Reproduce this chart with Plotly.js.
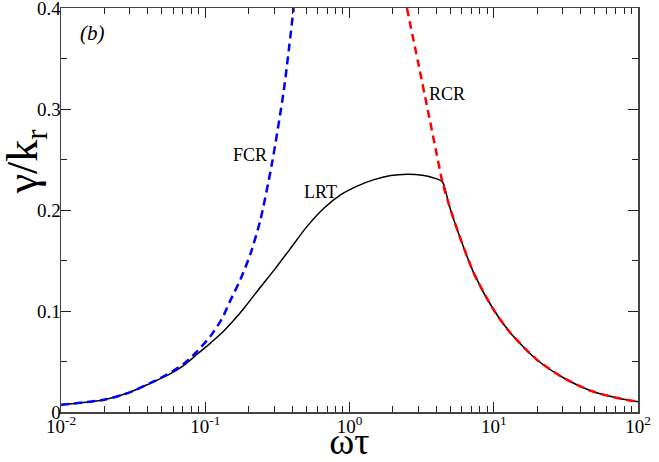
<!DOCTYPE html>
<html>
<head>
<meta charset="utf-8">
<script src="https://cdn.plot.ly/plotly-3.0.1.min.js"></script>
<style>
  html, body { margin: 0; padding: 0; background: #fff; }
  #chart { width: 659px; height: 462px; }
</style>
</head>
<body>
<div id="chart"></div>
<script>
// values (x = omega*tau, y = gamma/k_r)
const lrtX = [0.01, 0.02, 0.03, 0.0415, 0.055, 0.0706, 0.085, 0.108, 0.135, 0.157, 0.185, 0.241, 0.3, 0.389, 0.508, 0.664, 0.866,
  1.13, 1.48, 1.93, 2.51, 3.2, 3.8, 4.4, 4.9, 5.6, 7.3, 10, 13.1, 20, 30.8, 47, 72, 100];
const lrtY = [0.0072, 0.0122, 0.0195, 0.0284, 0.0365, 0.046, 0.0555, 0.068, 0.0805, 0.0905, 0.1025, 0.1235, 0.1405, 0.1618, 0.1838, 0.2018, 0.215,
  0.2237, 0.2301, 0.2341, 0.2355, 0.2345, 0.232, 0.228, 0.205, 0.180, 0.137, 0.101, 0.078, 0.0515, 0.0334, 0.021, 0.0138, 0.0102];

const fcrX = [0.01, 0.02, 0.03, 0.0415, 0.055, 0.0706, 0.085, 0.108, 0.13, 0.15, 0.175, 0.205, 0.241, 0.29, 0.35, 0.41];
const fcrY = [0.0072, 0.0122, 0.0195, 0.0286, 0.0375, 0.0475, 0.058, 0.0746, 0.092, 0.111, 0.131, 0.156, 0.190, 0.246, 0.318, 0.40];

const rcrX = [2.5, 3.0, 3.5, 4.0, 4.4, 4.9, 5.6, 7.3, 10, 13.1, 20, 30.8, 47, 72, 100];
const rcrY = [0.400, 0.345, 0.298, 0.257, 0.228, 0.205, 0.180, 0.137, 0.101, 0.078, 0.0515, 0.0334, 0.021, 0.0138, 0.0102];

const xMajor = [0.01, 0.1, 1, 10, 100];
const xMajorText = ['10<sup>-2</sup>', '10<sup>-1</sup>', '10<sup>0</sup>', '10<sup>1</sup>', '10<sup>2</sup>'];
const yMajor = [0, 0.1, 0.2, 0.3, 0.4];
const yMajorText = ['0', '0.1', '0.2', '0.3', '0.4'];

const labels = [
  {text: '<i>(b)</i>', x: 0.054, y: 0.938, size: 21},
  {text: 'FCR', x: 0.328, y: 0.636, size: 18},
  {text: 'LRT', x: 0.449, y: 0.545, size: 18},
  {text: 'RCR', x: 0.669, y: 0.787, size: 18}
];

(function () {
  const serif = 'Liberation Serif, Times New Roman, Times, DejaVu Serif, serif';

  // minor ticks: 2..9 inside every decade
  const xMinor = [];
  xMajor.slice(0, -1).forEach(function (d) {
    for (let k = 2; k <= 9; k++) {
      xMinor.push(d * k);
    }
  });

  const traces = [
    {x: lrtX, y: lrtY, type: 'scatter', mode: 'lines', name: 'LRT',
      line: {color: '#000', width: 1.5, shape: 'spline', smoothing: 0.7}},
    {x: fcrX, y: fcrY, type: 'scatter', mode: 'lines', name: 'FCR',
      line: {color: '#0000ff', width: 2.5, dash: '8px,5px', shape: 'spline', smoothing: 0.7}},
    {x: rcrX, y: rcrY, type: 'scatter', mode: 'lines', name: 'RCR',
      line: {color: '#ff0000', width: 2.5, dash: '8px,5px', shape: 'spline', smoothing: 0.7}}
  ];

  const axisCommon = {
    showgrid: false,
    zeroline: false,
    showline: true,
    linecolor: '#444',
    linewidth: 1.5,
    mirror: 'ticks',
    ticks: 'inside',
    ticklen: 10,
    tickwidth: 1,
    tickcolor: '#222',
    ticklabeloverflow: 'allow',
    tickfont: {family: serif, size: 19, color: '#000'}
  };

  const layout = {
    width: 659,
    height: 462,
    margin: {l: 61, r: 21, t: 8, b: 50},
    font: {family: serif, color: '#000'},
    paper_bgcolor: '#fff',
    plot_bgcolor: '#fff',
    showlegend: false,
    xaxis: Object.assign({}, axisCommon, {
      type: 'log',
      range: [-2, 2],
      tickmode: 'array',
      tickvals: xMajor,
      ticktext: xMajorText,
      ticklabelstandoff: -3,
      minor: {tickmode: 'array', tickvals: xMinor, ticks: 'inside', ticklen: 6, tickcolor: '#222'},
      title: {text: 'ωτ', font: {family: serif, size: 38, color: '#000'}, standoff: 4}
    }),
    yaxis: Object.assign({}, axisCommon, {
      range: [0, 0.4],
      tickmode: 'array',
      tickvals: yMajor,
      ticktext: yMajorText,
      ticklabelstandoff: -5,
      minor: {dtick: 0.05, ticks: 'inside', ticklen: 6, tickcolor: '#222'}
    }),
    annotations: labels.map(function (l) {
      return {
        text: l.text, x: l.x, y: l.y, xref: 'paper', yref: 'paper',
        xanchor: 'center', yanchor: 'middle',
        showarrow: false, font: {family: serif, size: l.size, color: '#000'}
      };
    }).concat([{
      text: 'γ/k<sub>r</sub>', x: -0.061, y: 0.62, xref: 'paper', yref: 'paper',
      xanchor: 'center', yanchor: 'middle',
      textangle: -90, showarrow: false,
      font: {family: serif, size: 44, color: '#000'}
    }])
  };

  Plotly.newPlot('chart', traces, layout, {staticPlot: true});
})();
</script>
</body>
</html>
